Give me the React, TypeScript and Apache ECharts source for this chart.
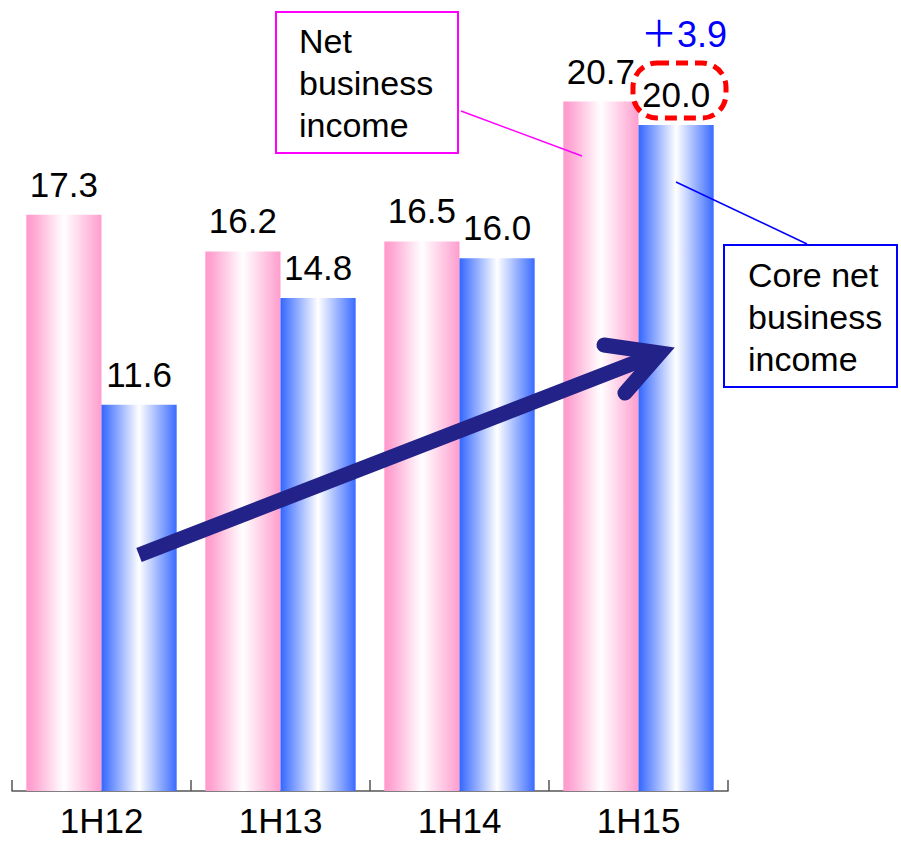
import React, { useEffect, useRef } from "react";
import * as echarts from "echarts";

const periods = ["1H12", "1H13", "1H14", "1H15"];
const netBusinessIncome = [17.3, 16.2, 16.5, 20.7];
const coreNetBusinessIncome = [11.6, 14.8, 16.0, 20.0];
const increaseLabel = "＋3.9";

const FONT = "'Liberation Sans', Arial, 'Noto Sans CJK JP', sans-serif";

const pinkFill = new echarts.graphic.LinearGradient(0, 0, 1, 0, [
  { offset: 0, color: "#FF99CC" },
  { offset: 0.08, color: "#FFA3D1" },
  { offset: 0.5, color: "#FFFFFF" },
  { offset: 1, color: "#FF9DCE" },
]);

const blueFill = new echarts.graphic.LinearGradient(0, 0, 1, 0, [
  { offset: 0, color: "#3366FF" },
  { offset: 0.5, color: "#FFFFFF" },
  { offset: 1, color: "#3A6BFF" },
]);

export default function App() {
  const ref = useRef<HTMLDivElement>(null);

  useEffect(() => {
    if (!ref.current) return;
    const chart = echarts.init(ref.current, undefined, { renderer: "svg" });

    const label = {
      show: true,
      position: "top",
      distance: 13,
      fontSize: 35,
      fontFamily: FONT,
      color: "#000",
      formatter: (p: any) => Number(p.value).toFixed(1),
    };

    chart.setOption({
      animation: false,
      backgroundColor: "#ffffff",
      grid: { left: 12, right: 173, top: 25, bottom: 50 },
      xAxis: {
        type: "category",
        data: periods,
        axisLine: { show: true, lineStyle: { color: "#555", width: 1.5 } },
        axisTick: { show: true, inside: true, length: 11, lineStyle: { color: "#555", width: 1.5 } },
        axisLabel: { fontSize: 35, lineHeight: 30, fontFamily: FONT, color: "#000", margin: 14 },
      },
      yAxis: {
        type: "value",
        min: 0,
        max: 23,
        show: false,
        splitLine: { show: false },
      },
      series: [
        {
          name: "Net business income",
          type: "bar",
          data: netBusinessIncome,
          barGap: "0%",
          barCategoryGap: "16%",
          itemStyle: { color: pinkFill },
          label,
        },
        {
          name: "Core net business income",
          type: "bar",
          data: coreNetBusinessIncome,
          barGap: "0%",
          barCategoryGap: "16%",
          itemStyle: { color: blueFill },
          label,
        },
      ],
      graphic: [
        // Callout: net business income
        {
          type: "rect",
          z: 10,
          shape: { x: 276, y: 12, width: 182, height: 141 },
          style: { fill: "#fff", stroke: "#FF00FF", lineWidth: 2 },
        },
        {
          type: "text",
          z: 11,
          x: 299,
          y: 20,
          style: {
            text: "Net\nbusiness\nincome",
            fontSize: 34,
            lineHeight: 42,
            fontFamily: FONT,
            fill: "#000",
            verticalAlign: "top",
            align: "left",
          },
        },
        {
          type: "line",
          z: 10,
          shape: { x1: 461, y1: 111, x2: 582, y2: 156 },
          style: { stroke: "#FF00FF", lineWidth: 1.5 },
        },
        // Callout: core net business income
        {
          type: "rect",
          z: 10,
          shape: { x: 724, y: 245, width: 173, height: 142 },
          style: { fill: "#fff", stroke: "#0000FF", lineWidth: 2 },
        },
        {
          type: "text",
          z: 11,
          x: 748,
          y: 254,
          style: {
            text: "Core net\nbusiness\nincome",
            fontSize: 34,
            lineHeight: 42,
            fontFamily: FONT,
            fill: "#000",
            verticalAlign: "top",
            align: "left",
          },
        },
        {
          type: "line",
          z: 10,
          shape: { x1: 676, y1: 182, x2: 807, y2: 244 },
          style: { stroke: "#0000FF", lineWidth: 1.5 },
        },
        // Highlight around the latest core figure
        {
          type: "rect",
          z: 12,
          shape: { x: 633, y: 63, width: 93, height: 55, r: 24 },
          style: { fill: "none", stroke: "#FF0000", lineWidth: 5, lineDash: [12, 7] },
        },
        {
          type: "text",
          z: 12,
          x: 641,
          y: 34,
          style: {
            text: increaseLabel,
            fontSize: 36,
            fontFamily: FONT,
            fill: "#0000FF",
            verticalAlign: "middle",
            align: "left",
          },
        },
        // Growth arrow
        {
          type: "line",
          z: 20,
          shape: { x1: 139, y1: 555, x2: 652, y2: 356 },
          style: { stroke: "#222289", lineWidth: 15, lineCap: "butt" },
        },
        {
          type: "polyline",
          z: 20,
          shape: { points: [[604, 345], [660, 353], [625, 393]] },
          style: { stroke: "#222289", fill: "none", lineWidth: 15, lineCap: "round", lineJoin: "miter", miterLimit: 10 },
        },
      ],
    });

    return () => chart.dispose();
  }, []);

  return (
    <div
      ref={ref}
      style={{ position: "absolute", left: 0, top: 0, width: 901, height: 841 }}
    />
  );
}
